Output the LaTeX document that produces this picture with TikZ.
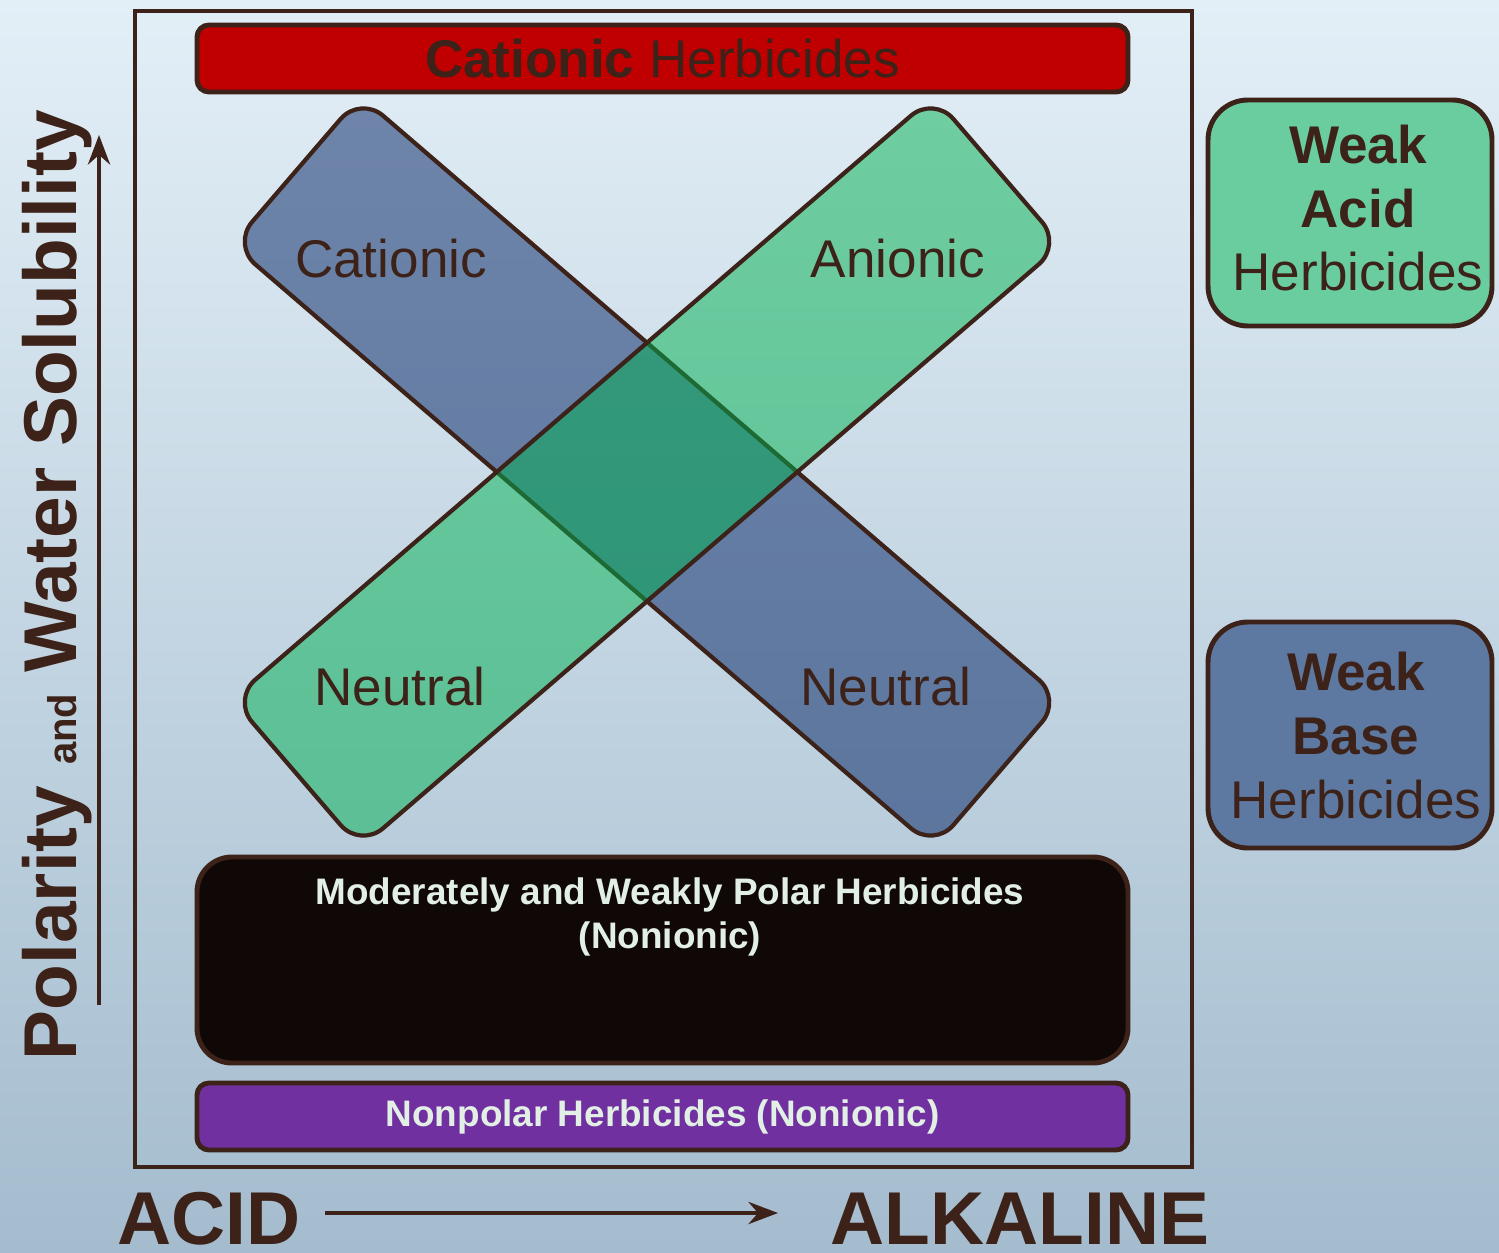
\documentclass[tikz,border=0pt]{standalone}
\usepackage{fontspec}
\setmainfont{Liberation Sans}
\usetikzlibrary{arrows.meta, positioning}
\definecolor{edgebrown}{RGB}{60,34,24}
\definecolor{bgtop}{RGB}{227,239,247}
\definecolor{bgbot}{RGB}{164,188,206}
\definecolor{cationred}{RGB}{192,0,0}
\definecolor{nonpolarpurple}{RGB}{112,48,160}
\definecolor{polarblack}{RGB}{16,8,6}
\definecolor{acidgreen}{RGB}{0,178,80}
\definecolor{baseblue}{RGB}{0,32,98}
\definecolor{acidbox}{RGB}{106,205,160}
\definecolor{basebox}{RGB}{94,121,161}
\definecolor{paletext}{RGB}{226,239,228}

\tikzset{
  bandbox/.style={draw=edgebrown, line width=1.4pt, rounded corners=0.12cm, minimum width=9.31cm, minimum height=0.67cm},
  crossbar/.style={draw=edgebrown, line width=1.2pt, rounded corners=0.3cm, minimum width=9.25cm, minimum height=1.96cm, fill opacity=0.5, draw opacity=1, inner sep=0pt},
  sidebox/.style={draw=edgebrown, line width=1.4pt, rounded corners=0.4cm, minimum width=2.84cm, minimum height=2.26cm},
  bigtext/.style={text=edgebrown, font=\fontsize{15.1}{18.2}\selectfont},
  axistext/.style={text=edgebrown, font=\fontsize{21.3}{24}\selectfont\bfseries, inner sep=0pt},
  paletitle/.style={text=paletext, font=\fontsize{10.5}{12.6}\selectfont\bfseries, align=center},
}

\begin{document}
\begin{tikzpicture}[>=Stealth]
    % --- Background and outer frame ---
    \shade[top color=bgtop, bottom color=bgbot] (0,0) rectangle (14.99,12.52);
    \useasboundingbox (0,0) rectangle (14.99,12.52);
    \draw[edgebrown, line width=1.1pt] (1.35,0.85) rectangle (11.92,12.41);

    % --- Top band: cationic ---
    \node[bandbox, fill=cationred] (cationband) at (6.625,11.935) {};
    \node[bigtext, anchor=center] (cationtitle) at (cationband.center) {\textbf{Cationic} Herbicides};

    % --- Cross of the two bars ---
    \node[crossbar, fill=baseblue, rotate=-40.7] (basebar) at (6.47,7.80) {};
    \node[crossbar, fill=acidgreen, rotate=40.7] (acidbar) at (6.47,7.80) {};
    \node[bigtext, anchor=base] (cationic) at (3.91,9.74) {Cationic};
    \node[bigtext, anchor=base] (anionic) at (8.98,9.74) {Anionic};
    \node[bigtext, anchor=base] (neutralL) at (4.00,5.47) {Neutral};
    \node[bigtext, anchor=base] (neutralR) at (8.86,5.47) {Neutral};

    % --- Nonionic bands ---
    \node[bandbox, fill=polarblack, rounded corners=0.35cm, minimum height=2.06cm] (polarband) at (6.625,2.92) {};
    \node[paletitle] (polartitle) at (6.70,3.35) {Moderately and Weakly Polar Herbicides\\(Nonionic)};
    \node[bandbox, fill=nonpolarpurple] (nonpolarband) at (6.625,1.355) {};
    \node[paletitle] (nonpolartitle) at (nonpolarband.center) {Nonpolar Herbicides (Nonionic)};

    % --- Side boxes (base anchor = last line) ---
    \node[sidebox, fill=acidbox] (weakacid) at (13.50,10.39) {};
    \node[bigtext, align=center, anchor=base] (weakacidtext) at (13.58,9.61) {\textbf{Weak}\\\textbf{Acid}\\Herbicides};
    \node[sidebox, fill=basebox] (weakbase) at (13.50,5.17) {};
    \node[bigtext, align=center, anchor=base] (weakbasetext) at (13.56,4.34) {\textbf{Weak}\\\textbf{Base}\\Herbicides};

    % --- Axes ---
    \node[axistext, anchor=base] (acid) at (2.09,0.08) {ACID};
    \node[axistext, anchor=base] (alkaline) at (10.20,0.08) {ALKALINE};
    \coordinate (phstart) at (3.25,0.39);
    \coordinate (phend) at (7.78,0.39);
    \draw[->, edgebrown, line width=1.2pt] (phstart) -- (phend);

    \node[axistext, rotate=90, anchor=base] (polarity) at (0.76,6.67)
        {Polarity {\fontsize{11.4}{12}\selectfont and} Water Solubility};
    \coordinate (polstart) at (0.99,2.47);
    \coordinate (polend) at (0.99,11.17);
    \draw[->, edgebrown, line width=1.2pt] (polstart) -- (polend);
\end{tikzpicture}
\end{document}
